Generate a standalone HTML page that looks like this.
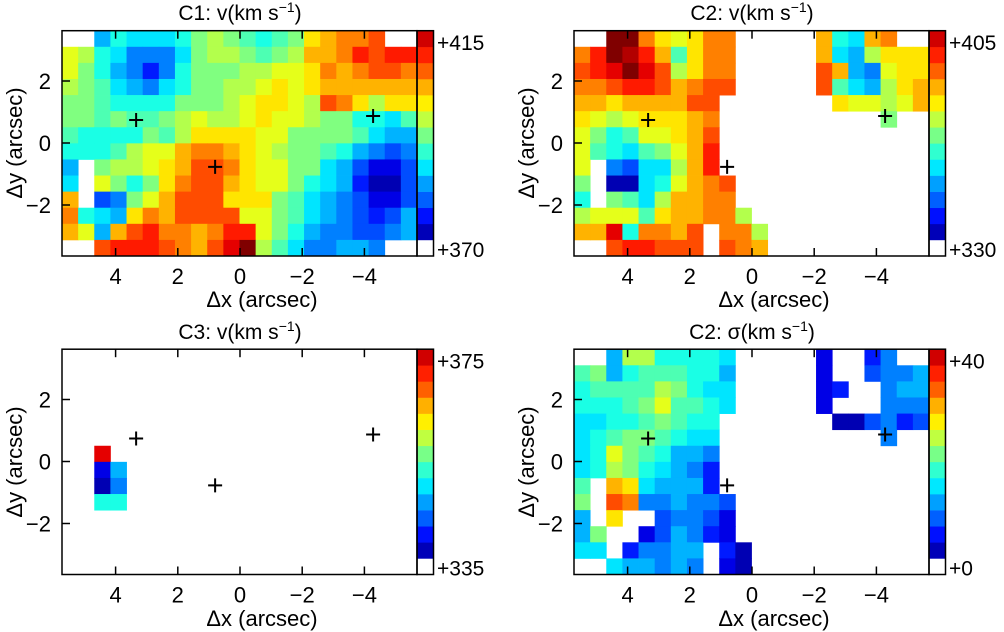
<!DOCTYPE html>
<html><head><meta charset="utf-8"><style>
body{margin:0;background:#fff}
svg{display:block;font-family:"Liberation Sans",sans-serif}
</style></head><body>
<svg id="fig" width="1004" height="632" viewBox="0 0 1004 632">
<g font-size="21" text-anchor="middle">
<text x="240" y="20">C1: v(km s<tspan font-size="14" dy="-8">−1</tspan><tspan dy="8">)</tspan></text>
<text x="752" y="20">C2: v(km s<tspan font-size="14" dy="-8">−1</tspan><tspan dy="8">)</tspan></text>
<text x="240" y="339">C3: v(km s<tspan font-size="14" dy="-8">−1</tspan><tspan dy="8">)</tspan></text>
<text x="752" y="339">C2: σ(km s<tspan font-size="14" dy="-8">−1</tspan><tspan dy="8">)</tspan></text>
</g>
<g font-size="22" text-anchor="middle">
<text x="262" y="307">Δx (arcsec)</text>
<text x="774" y="307">Δx (arcsec)</text>
<text x="262" y="626">Δx (arcsec)</text>
<text x="774" y="626">Δx (arcsec)</text>
<text transform="translate(22,143) rotate(-90)">Δy (arcsec)</text>
<text transform="translate(534,143) rotate(-90)">Δy (arcsec)</text>
<text transform="translate(22,462) rotate(-90)">Δy (arcsec)</text>
<text transform="translate(534,462) rotate(-90)">Δy (arcsec)</text>
</g>
</svg>
<script>
// ---- data ----
const xTicks = [4, 2, 0, -2, -4];
const xTickLabels = ["4", "2", "0", "−2", "−4"];
const yTicks = [2, 0, -2];
const yTickLabels = ["2", "0", "−2"];
const crossX = [3.34, 0.8, -4.28];
const crossY = [0.74, -0.77, 0.87];
const c1Range = [370, 415];
const c2vRange = [330, 405];
const c3Range = [335, 375];
const c2sRange = [0, 40];
const cbarLabelsC1 = ["+415", "+370"];
const cbarLabelsC2v = ["+405", "+330"];
const cbarLabelsC3 = ["+375", "+335"];
const cbarLabelsC2s = ["+40", "+0"];
// level codes 0..K (0..20) -> fraction of range; '.' = no data
const c1Grid = [
"..687778ABA989ADEFFG..",
"CB875557ABBA9ABEEFHGHH",
"CA865358AAABBCCDFEFGGF",
"BA976578AABBCDCDEEEEEE",
"AA98888AAABCDDCBGFDBDD",
"AA9A99ABCBBCDCCBAA8879",
"98888A9BDDDDCCAAAA9766",
"8889BCCEFFEDCBAA986545",
"6.ABBCDEGGFDCCAA764224",
"7.CA8ADFGGEDCCA8763114",
"E.45ACEGGGDDDA97654224",
"F876DFEGGGGCCA97654346",
"EC6EGHFFEFHHCA86554456",
"..GHHHGFEGIKB9755665.."];
const c2vGrid = [
"..KKFDCDFF.....E87EF..",
"FHKJHE9DFF.....E76BDDD",
"GHIKIGBDFF.....GE65CDD",
"FFGHHGEFGG.....G976BDE",
"EEDEEEEGG.......DCCBCE",
"DCBCDDDEF..........A..",
"CA89CCDEG.............",
"C9879ACEH.............",
"C.5477BEH.............",
"A.1178CEFG............",
"8.A97BEEFF............",
"BCCC9DEEFFB...........",
"EEI8FFEG.FFB..........",
"..GHHGGG.GFE.........."];
const c3Grid = [
"......................",
"......................",
"......................",
"......................",
"......................",
"......................",
"..I...................",
"..26..................",
"..15..................",
"..88..................",
"......................",
"......................",
"......................",
"......................"];
const c2sGrid = [
"..6BB88887.....2..35..",
"9A68999886.....2..4556",
"89999BA877.....23..566",
"8889AC9987.....2...555",
"77889A988.......114534",
"789AA9877..........5..",
"78CA98665.............",
"78BA87653.............",
"9.ED76663.............",
"A.GF556554............",
"6.D..45542............",
"6A..246532............",
"77.35566.31...........",
"..766565.21..........."];
// ---- style ----
const cbarColors = ["#0000B8","#0010FF","#0060FF","#00A0FF","#00E8FF","#30FFD0","#78FF88","#C0FF40","#FFF000","#FFB000","#FF6000","#FF2000","#D00000"];
const NS = "http://www.w3.org/2000/svg";
const svg = document.getElementById("fig");
function jet(t){
  const c = v => Math.round(255*Math.max(0, Math.min(1, v)));
  return `rgb(${c(1.5-Math.abs(4*t-3))},${c(1.5-Math.abs(4*t-2))},${c(1.5-Math.abs(4*t-1))})`;
}
const CODES = "0123456789ABCDEFGHIJK";
function mk(tag, attrs, parent){
  const e = document.createElementNS(NS, tag);
  for (const k in attrs) e.setAttribute(k, attrs[k]);
  parent.appendChild(e);
  return e;
}
const L = 62, T = 30.7, R = 417, B = 256, NC = 22, NR = 14;
const CW = (R-L)/NC, CH = (B-T)/NR;
function drawPanel(name, dx, dy, grid, range, cbLabels){
  const g = mk("g", {}, svg);
  
  
  const xs = v => dx + 240 - 31.1*v;
  const ys = v => dy + 143 - 31*v;
  grid.forEach((row, r) => {
    for (let c = 0; c < NC; c++){
      const ch = row[c];
      if (!ch || ch === ".") continue;
      const val = range[0] + CODES.indexOf(ch)/20*(range[1]-range[0]);
      const t = (val-range[0])/(range[1]-range[0]);
      const rect = mk("rect", {x: dx+L+c*CW, y: dy+T+r*CH, width: CW+0.4, height: CH+0.4, fill: jet(t)}, g);
      
      
    }
  });
  for (let i = 0; i < 14; i++){
    const fill = i === 0 ? "#fff" : cbarColors[i-1];
    const cb = mk("rect", {x: dx+R, y: dy+B-(i+1)*CH, width: 16.5, height: CH+0.3, fill}, g);
    
    
  }
  const cbf = mk("rect", {x: dx+R, y: dy+T, width: 16.5, height: B-T, fill: "none", stroke: "#000", "stroke-width": 1.5}, g);
  
  
  const fr = mk("rect", {x: dx+L, y: dy+T, width: R-L, height: B-T, fill: "none", stroke: "#000", "stroke-width": 1.5}, g);
  
  
  xTicks.forEach((v, i) => {
    const x = xs(v);
    const t1 = mk("line", {x1: x, x2: x, y1: dy+T, y2: dy+T+8, stroke: "#000", "stroke-width": 1.5}, g);
    
    
    const t2 = mk("line", {x1: x, x2: x, y1: dy+B, y2: dy+B-8, stroke: "#000", "stroke-width": 1.5}, g);
    
    
    const tl = mk("text", {x: x, y: dy+284, "font-size": 22, "text-anchor": "middle"}, g);
    tl.textContent = xTickLabels[i];
    
    
  });
  yTicks.forEach((v, i) => {
    const y = ys(v);
    const t1 = mk("line", {x1: dx+L, x2: dx+L+8, y1: y, y2: y, stroke: "#000", "stroke-width": 1.5}, g);
    
    
    const tl = mk("text", {x: dx+51, y: y+8, "font-size": 22, "text-anchor": "end"}, g);
    tl.textContent = yTickLabels[i];
    
    
  });
  crossX.forEach((v, i) => {
    const cx = xs(v), cy = ys(crossY[i]);
    const cr = mk("path", {d: `M${cx-7},${cy}H${cx+7}M${cx},${cy-7}V${cy+7}`, stroke: "#000", "stroke-width": 2, fill: "none"}, g);
    
    
  });
  const a = mk("text", {x: dx+437, y: dy+50, "font-size": 21}, g);
  a.textContent = cbLabels[0];
  
  
  const b = mk("text", {x: dx+437, y: dy+257, "font-size": 21}, g);
  b.textContent = cbLabels[1];
  
  
}
drawPanel("c1-velocity", 0, 0, c1Grid, c1Range, cbarLabelsC1);
drawPanel("c2-velocity", 512, 0, c2vGrid, c2vRange, cbarLabelsC2v);
drawPanel("c3-velocity", 0, 318.5, c3Grid, c3Range, cbarLabelsC3);
drawPanel("c2-dispersion", 512, 318.5, c2sGrid, c2sRange, cbarLabelsC2s);
</script>
</body></html>
